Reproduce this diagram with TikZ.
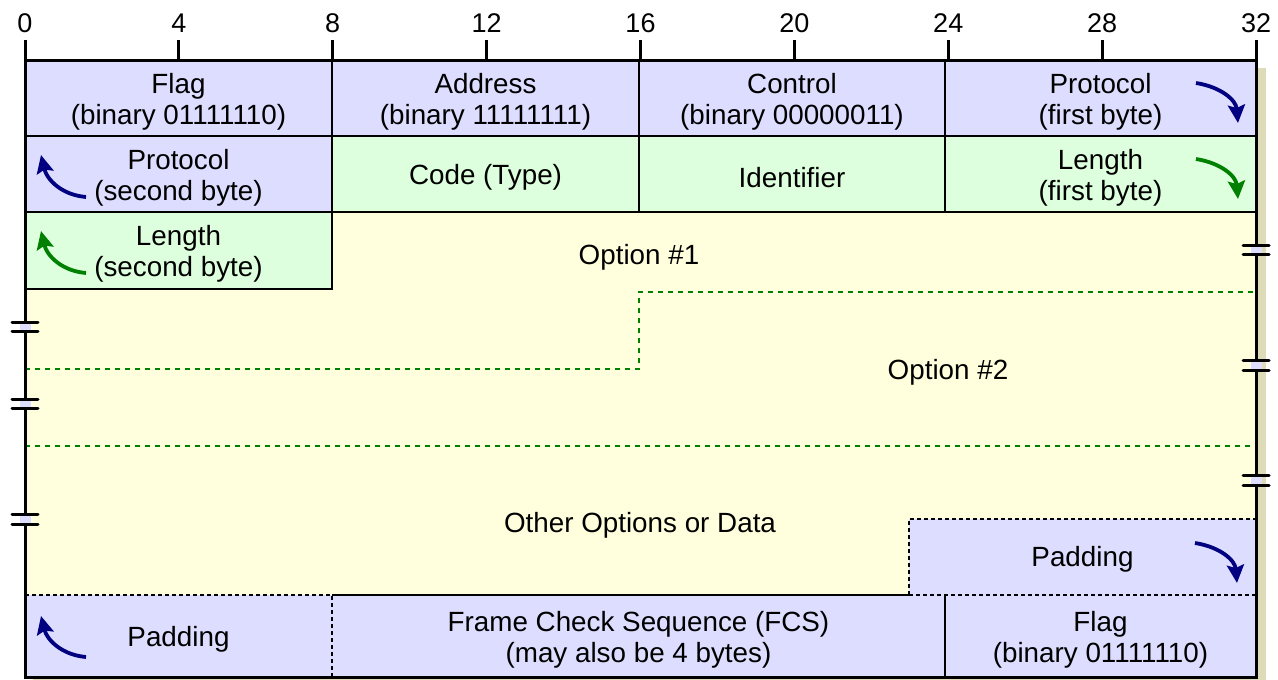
\documentclass[tikz,border=0pt]{standalone}
\usepackage{fontspec}
\setmainfont{Liberation Sans}
\usetikzlibrary{arrows.meta}
\definecolor{lav}{RGB}{221,221,255}
\definecolor{mint}{RGB}{221,255,221}
\definecolor{cream}{RGB}{255,255,221}
\definecolor{shadowtan}{RGB}{222,220,184}
\definecolor{navyarrow}{RGB}{0,0,128}
\definecolor{greenarrow}{RGB}{0,128,0}
\begin{document}
\begin{tikzpicture}[x=1pt,y=-1pt,
  font=\fontsize{27.8}{31}\selectfont,
  label/.style={inner sep=0pt, align=center, anchor=center},
  thinline/.style={line width=1.3pt, black},
  dashbox/.style={line width=1.3pt, black, dash pattern=on 4pt off 3pt},
  greendash/.style={line width=1.5pt, greenarrow, dash pattern=on 5pt off 5pt},
  bigborder/.style={line width=3pt, black},
  tickline/.style={line width=3pt, black},
  curvy/.style={line width=3.8pt, -{Stealth[length=18pt,width=17pt,inset=3pt]}},
  breakline/.style={line width=3pt, black, line cap=round},
  ticklabel/.style={font=\fontsize{27}{30}\selectfont, inner sep=0pt}
]
\useasboundingbox (0,0) rectangle (1278,680);

% shadow
\fill[shadowtan] (1256,68) rectangle (1266,680);
\fill[shadowtan] (33,677) rectangle (1266,681);

% fills
\fill[cream] (25,212) rectangle (1256,595);
\fill[lav] (25,60) rectangle (1256,136);
\fill[lav] (25,136) rectangle (332,212);
\fill[mint] (332,136) rectangle (1256,212);
\fill[mint] (25,212) rectangle (332,289);
\fill[lav] (909,519) rectangle (1256,595);
\fill[lav] (25,595) rectangle (1256,677);

% row 1
\node[label] (flag1) at (178.5,101.5) {Flag\\(binary 01111110)};
\node[label] (addr) at (485.5,101.5) {Address\\(binary 11111111)};
\node[label] (ctrl) at (792,101.5) {Control\\(binary 00000011)};
\node[label] (proto1) at (1100.5,101.5) {Protocol\\(first byte)};
% row 2
\node[label] (proto2) at (178.5,177.5) {Protocol\\(second byte)};
\node[label] (code) at (485.5,177.5) {Code (Type)};
\node[label] (ident) at (792,177.5) {Identifier};
\node[label] (len1) at (1100.5,177.5) {Length\\(first byte)};
% row 3
\node[label] (len2) at (178.5,253.5) {Length\\(second byte)};

% option labels
\node[label] (opt1) at (639,257) {Option \#1};
\node[label] (opt2) at (948,372) {Option \#2};
\node[label] (other) at (640,525) {Other Options or Data};

% padding (right)
\node[label] (padR) at (1082.5,559.5) {Padding};
% bottom row
\node[label] (padL) at (178.5,639.5) {Padding};
\node[label] (fcs) at (638.5,639.5) {Frame Check Sequence (FCS)\\(may also be 4 bytes)};
\node[label] (flag2) at (1100.5,639.5) {Flag\\(binary 01111110)};

% solid inner lines
\draw[thinline] (25,136) -- (1256,136);
\draw[thinline] (25,212) -- (1256,212);
\draw[thinline] (332,60) -- (332,289) -- (25,289);
\draw[thinline] (639,60) -- (639,212);
\draw[thinline] (945,60) -- (945,212);
\draw[thinline] (332,595) -- (909,595);
\draw[thinline] (945,595) -- (945,677);

% dashed padding boxes
\draw[dashbox] (909,595) -- (909,519) -- (1256,519);
\draw[dashbox] (909,595) -- (1256,595);
\draw[dashbox] (25,595) -- (332,595) -- (332,677);

% green dashed option separators
\draw[greendash] (25,369) -- (639,369) -- (639,292) -- (1256,292);
\draw[greendash] (25,446) -- (1256,446);

% curved arrows
\draw[curvy, navyarrow] (1196,83) .. controls (1221,87) and (1236,100) .. (1238,123);
\draw[curvy, greenarrow] (1196,159) .. controls (1221,163) and (1236,176) .. (1238,199);
\draw[curvy, navyarrow] (1195,543) .. controls (1220,547) and (1235,560) .. (1237,583);
\draw[curvy, navyarrow] (86,197) .. controls (62,195) and (47,180) .. (41,155);
\draw[curvy, greenarrow] (86,273) .. controls (62,271) and (47,256) .. (41,231);
\draw[curvy, navyarrow] (86,657) .. controls (62,655) and (47,640) .. (41,616);

% outer border
\draw[bigborder] (25,60) rectangle (1256,677);

% ticks and labels
\foreach \b in {0,4,...,32} {
  \draw[tickline] ({25+38.469*\b},40) -- ({25+38.469*\b},60);
  \node[ticklabel] (t\b) at ({25+38.469*\b},23) {\b};
}

% break marks left
\foreach \ya/\yb in {322/331, 399/408, 514/524} {
  \fill[lav] (20,\ya+1.5) rectangle (31,\yb-1.5);
  \draw[breakline] (12,\ya) -- (38,\ya);
  \draw[breakline] (12,\yb) -- (38,\yb);
}
% break marks right
\foreach \ya/\yb in {245/254, 360/370, 475/485} {
  \fill[lav] (1251,\ya+1.5) rectangle (1262,\yb-1.5);
  \draw[breakline] (1243,\ya) -- (1269,\ya);
  \draw[breakline] (1243,\yb) -- (1269,\yb);
}
\end{tikzpicture}
\end{document}
